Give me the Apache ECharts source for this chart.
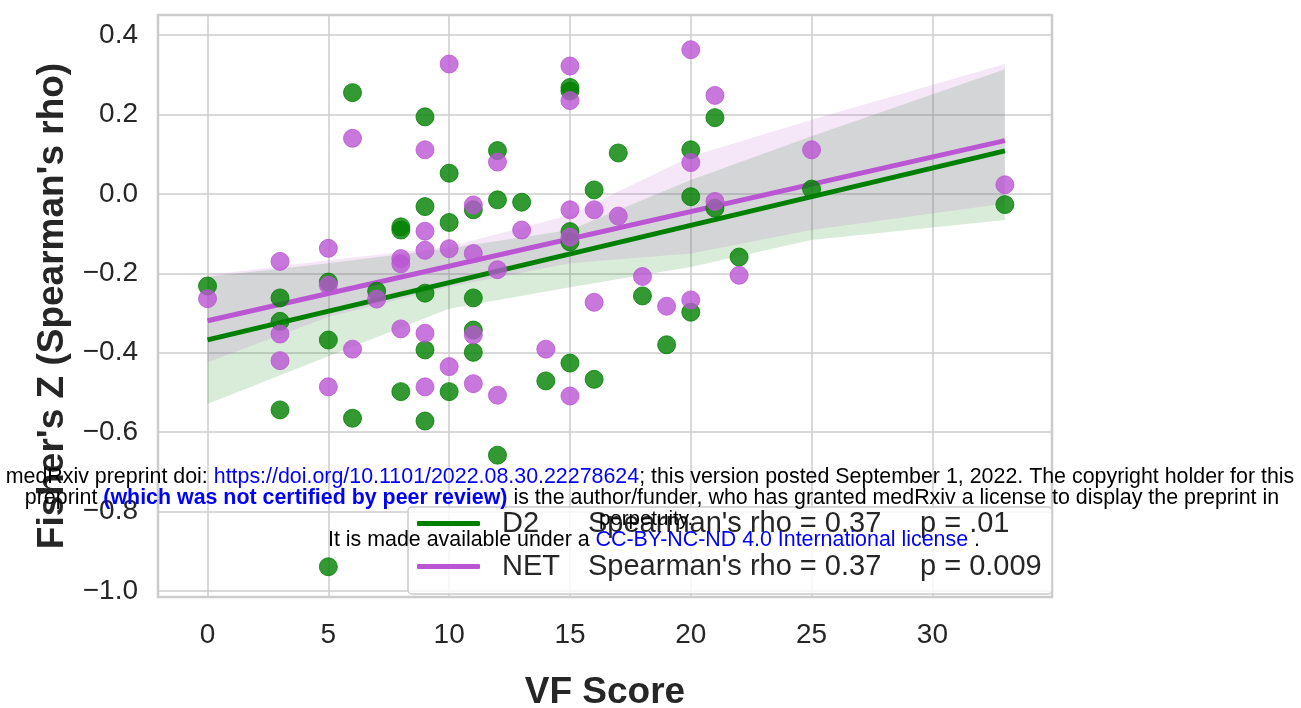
<!DOCTYPE html>
<html>
<head>
<meta charset="utf-8">
<script src="https://cdn.jsdelivr.net/npm/echarts@6/dist/echarts.min.js"></script>
<style>
  html, body { margin: 0; padding: 0; background: #fff; }
  #chart { width: 1301px; height: 708px; }
</style>
</head>
<body>
<div id="chart"></div>
<script>
// ---- Data ----
const vfScore = [0, 3,3,3, 5,5,5, 6,6, 7, 8,8,8, 9,9,9,9,9, 10,10,10, 11,11,11,11, 12,12,12, 13, 14,
  15,15,15,15,15, 16,16, 17, 18, 19, 20,20,20, 21,21, 22, 25, 33];
const d2Z = [-0.232, -0.262,-0.321,-0.544, -0.222,-0.368,-0.939, 0.255,-0.565, -0.245, -0.083,-0.091,-0.498,
  0.194,-0.032,-0.250,-0.393,-0.572, 0.052,-0.072,-0.498, -0.040,-0.262,-0.343,-0.399, 0.109,-0.015,-0.658,
  -0.021, -0.471, 0.268,0.259,-0.095,-0.121,-0.426, 0.010,-0.467, 0.103, -0.257, -0.380, 0.111,-0.007,-0.298,
  0.192,-0.036, -0.159, 0.012, -0.027];
const netZ = [-0.264, -0.170,-0.353,-0.420, -0.137,-0.230,-0.486, 0.140,-0.391, -0.265, -0.163,-0.176,-0.340,
  0.111,-0.094,-0.142,-0.351,-0.486, 0.327,-0.138,-0.435, -0.028,-0.150,-0.355,-0.478, 0.080,-0.191,-0.507,
  -0.091, -0.391, 0.322,0.235,-0.040,-0.109,-0.509, -0.040,-0.273, -0.056, -0.208, -0.283, 0.363,0.079,-0.267,
  0.248,-0.019, -0.205, 0.111, 0.023];

// 95% confidence band edges of the regression fits
const bandX     = [0, 5, 10, 15, 20, 25, 33];
const d2Upper   = [-0.209, -0.175, -0.137, -0.091, 0.035, 0.145, 0.314];
const d2Lower   = [-0.529, -0.409, -0.289, -0.235, -0.184, -0.116, -0.066];
const netUpper  = [-0.205, -0.167, -0.133, -0.053, 0.094, 0.187, 0.327];
const netLower  = [-0.424, -0.310, -0.234, -0.175, -0.150, -0.091, -0.024];

const seriesNames = ['D2', 'NET'];
const statLabels = ["Spearman's rho = 0.37", "Spearman's rho = 0.37"];
const pLabels = ['p = .01', 'p = 0.009'];
const xTicks = [0, 5, 10, 15, 20, 25, 30];
const yTicks = [-1.0, -0.8, -0.6, -0.4, -0.2, 0.0, 0.2, 0.4];

const GREEN = '#008000';
const PURPLE = '#BA55D3';

// ---- OLS regression line computed from the data ----
function fitLine(xs, ys) {
  const n = xs.length;
  const mx = xs.reduce((a, b) => a + b, 0) / n;
  const my = ys.reduce((a, b) => a + b, 0) / n;
  let sxx = 0, sxy = 0;
  for (let i = 0; i < n; i++) { sxx += (xs[i] - mx) ** 2; sxy += (xs[i] - mx) * (ys[i] - my); }
  const b = sxy / sxx, a = my - b * mx;
  const x0 = Math.min(...xs), x1 = Math.max(...xs);
  return [[x0, a + b * x0], [x1, a + b * x1]];
}

function bandSeries(upper, lower, color) {
  const poly = bandX.map((x, i) => [x, upper[i]])
    .concat(bandX.map((x, i) => [x, lower[i]]).reverse());
  return {
    type: 'custom',
    silent: true,
    data: [0],
    encode: { x: -1, y: -1 },
    renderItem: (params, api) => ({
      type: 'polygon',
      shape: { points: poly.map(p => api.coord(p)) },
      style: { fill: color, opacity: 0.15 }
    }),
    z: 2
  };
}

const colors = [GREEN, PURPLE];
const yVals = [d2Z, netZ];
const bands = [[d2Upper, d2Lower], [netUpper, netLower]];

const series = [];
seriesNames.forEach((name, i) => {
  series.push({
    name: name + ' points',
    type: 'scatter',
    data: vfScore.map((x, k) => [x, yVals[i][k]]),
    symbolSize: 18,
    itemStyle: { color: colors[i], opacity: 0.8, borderColor: colors[i], borderWidth: 1 },
    z: 2
  });
  series.push(bandSeries(bands[i][0], bands[i][1], colors[i]));
  series.push({
    name: name,
    type: 'line',
    data: fitLine(vfScore, yVals[i]),
    showSymbol: false,
    symbol: 'none',
    lineStyle: { color: colors[i], width: 5 },
    itemStyle: { color: colors[i] },
    z: 2
  });
});

const chart = echarts.init(document.getElementById('chart'), null, { renderer: 'canvas' });

const TXT = '#262626';
const FONT = 'Liberation Sans, Arial, sans-serif';
const WM = 21.4;

const option = {
  backgroundColor: '#ffffff',
  animation: false,
  textStyle: { fontFamily: FONT },
  grid: {
    left: 158, right: 249, top: 15, bottom: 111,
    outerBoundsMode: 'none',
    containLabel: false,
    show: true, borderColor: '#cccccc', borderWidth: 2.5, backgroundColor: '#ffffff'
  },
  xAxis: {
    type: 'value',
    min: -2.05, max: 34.95,
    splitNumber: 7,
    name: 'VF Score',
    nameLocation: 'middle',
    nameGap: 77,
    nameTextStyle: { fontSize: 37, fontWeight: 'bold', color: TXT, fontFamily: FONT },
    axisLine: { show: false },
    axisTick: { show: false },
    axisLabel: {
      fontSize: 28, color: TXT, margin: 24, showMinLabel: false, showMaxLabel: false,
      fontFamily: FONT,
      formatter: v => xTicks.includes(v) ? String(v) : ''
    },
    splitLine: { show: true, lineStyle: { color: '#cccccc', width: 1.5 } }
  },
  yAxis: {
    type: 'value',
    min: -1.0152, max: 0.4505,
    splitNumber: 7,
    name: "Fisher's Z (Spearman's rho)",
    nameLocation: 'middle',
    nameGap: 87,
    nameTextStyle: { fontSize: 37, fontWeight: 'bold', color: TXT, fontFamily: FONT },
    axisLine: { show: false },
    axisTick: { show: false },
    axisLabel: {
      fontSize: 28, color: TXT, margin: 20, showMinLabel: false, showMaxLabel: false,
      fontFamily: FONT,
      formatter: v => {
        const r = Math.round(v * 10) / 10;
        if (!yTicks.some(t => Math.abs(t - r) < 1e-9) || Math.abs(v - r) > 1e-6) return '';
        return (r < 0 ? '\u2212' : '') + Math.abs(r).toFixed(1);
      }
    },
    splitLine: { show: true, lineStyle: { color: '#cccccc', width: 1.5 } }
  },
  legend: {
    data: seriesNames.map((n, i) => ({ name: n, icon: 'roundRect', itemStyle: { color: colors[i] } })),
    orient: 'vertical',
    left: 408, top: 507,
    itemWidth: 63, itemHeight: 5,
    itemGap: 14,
    padding: [2, 10, 13, 9],
    backgroundColor: 'rgba(255,255,255,0.8)',
    borderColor: '#cccccc', borderWidth: 1.5, borderRadius: 4,
    selectedMode: false,
    formatter: name => {
      const i = seriesNames.indexOf(name);
      return '{s|}{a|' + name + '}{b|' + statLabels[i] + '}{c|' + pLabels[i] + '}';
    },
    textStyle: {
      fontSize: 29, color: TXT, lineHeight: 28, fontFamily: FONT,
      rich: {
        s: { width: 17 },
        a: { width: 86, fontSize: 29, color: TXT, lineHeight: 28, fontFamily: FONT },
        b: { width: 332, fontSize: 29, color: TXT, lineHeight: 28, fontFamily: FONT },
        c: { width: 122, fontSize: 29, color: TXT, lineHeight: 28, fontFamily: FONT }
      }
    }
  },
  graphic: [
    {
      type: 'text', z: 100, x: 650, y: 477,
      style: {
        text: 'medRxiv preprint doi: {l|https://doi.org/10.1101/2022.08.30.22278624}; this version posted September 1, 2022. The copyright holder for this',
        align: 'center', verticalAlign: 'middle',
        fontSize: WM, fontFamily: FONT, fill: '#000000',
        rich: { l: { fill: '#0000ff', fontSize: WM, fontFamily: FONT } }
      }
    },
    {
      type: 'text', z: 100, x: 652, y: 498,
      style: {
        text: 'preprint {b|(which was not certified by peer review)} is the author/funder, who has granted medRxiv a license to display the preprint in',
        align: 'center', verticalAlign: 'middle',
        fontSize: WM, fontFamily: FONT, fill: '#000000',
        rich: { b: { fill: '#0000ff', fontWeight: 'bold', fontSize: WM, fontFamily: FONT } }
      }
    },
    {
      type: 'text', z: 100, x: 646, y: 519,
      style: {
        text: 'perpetuity.', align: 'center', verticalAlign: 'middle',
        fontSize: 20.5, fontFamily: FONT, fill: '#000000'
      }
    },
    {
      type: 'text', z: 100, x: 654, y: 540,
      style: {
        text: 'It is made available under a {l|CC-BY-NC-ND 4.0 International license} .',
        align: 'center', verticalAlign: 'middle',
        fontSize: WM, fontFamily: FONT, fill: '#000000',
        rich: { l: { fill: '#0000ff', fontSize: WM, fontFamily: FONT } }
      }
    }
  ],
  series: series
};
chart.setOption(option);
</script>
</body>
</html>
